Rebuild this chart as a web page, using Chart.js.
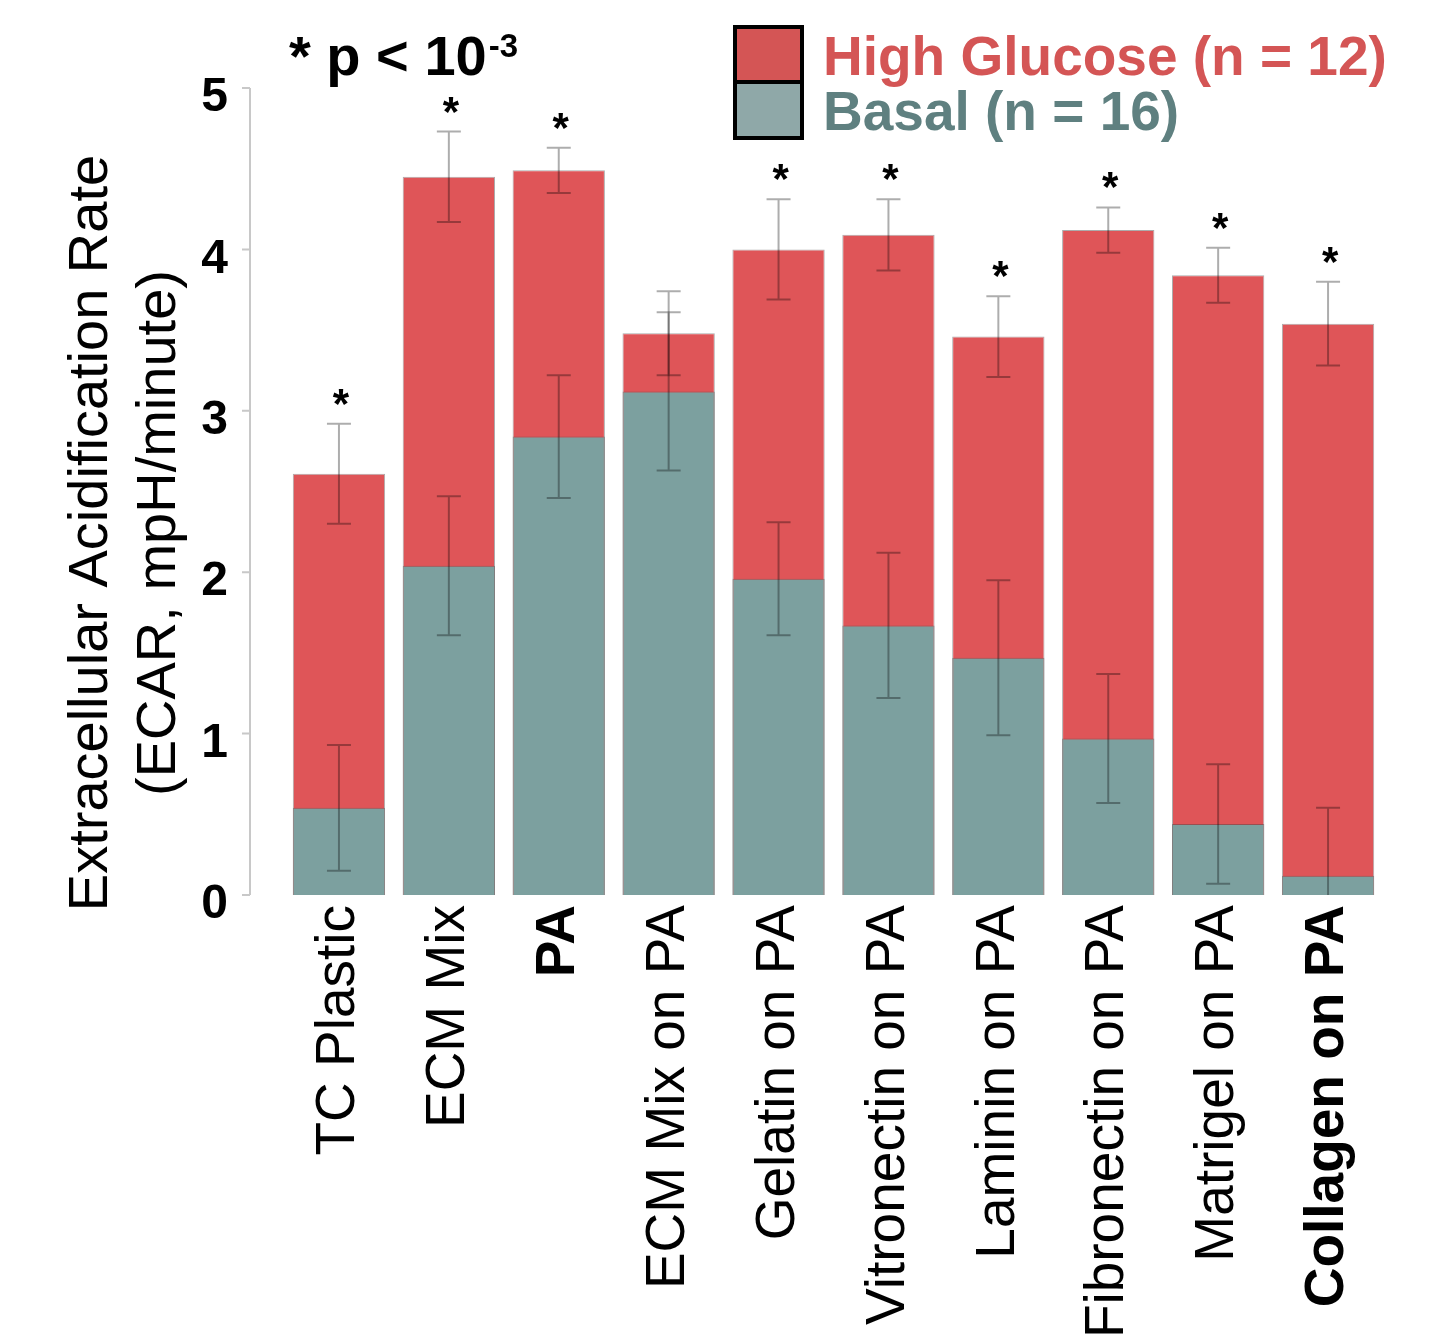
<!DOCTYPE html>
<html>
<head>
<meta charset="utf-8">
<script src="https://cdn.jsdelivr.net/npm/chart.js@4/dist/chart.umd.min.js"></script>
<style>
  html, body { margin: 0; padding: 0; background: #ffffff; }
  #wrap { width: 1433px; height: 1338px; position: relative; }
</style>
</head>
<body>
<div id="wrap"><canvas id="c"></canvas></div>
<script>
// ---------------- data ----------------
const categories = ["TC Plastic", "ECM Mix", "PA", "ECM Mix on PA", "Gelatin on PA",
  "Vitronectin on PA", "Laminin on PA", "Fibronectin on PA", "Matrigel on PA", "Collagen on PA"];
const boldCategories = ["PA", "Collagen on PA"];
const highGlucose    = [2.61, 4.45, 4.49, 3.48, 4.00, 4.09, 3.46, 4.12, 3.84, 3.54];
const highGlucoseErr = [0.31, 0.28, 0.14, 0.26, 0.31, 0.22, 0.25, 0.14, 0.17, 0.26];
const basal          = [0.54, 2.04, 2.84, 3.12, 1.96, 1.67, 1.47, 0.97, 0.44, 0.12];
const basalErr       = [0.39, 0.43, 0.38, 0.49, 0.35, 0.45, 0.48, 0.40, 0.37, 0.42];
const significance   = ["*", "*", "*", "", "*", "*", "*", "*", "*", "*"];
const yTickValues    = [0, 1, 2, 3, 4, 5];
const seriesNames    = ["High Glucose (n = 12)", "Basal (n = 16)"];
const yTitleLines    = ["Extracellular Acidification Rate", "(ECAR, mpH/minute)"];
const noteMain = "* p < 10";
const noteSup  = "-3";

// ---------------- style ----------------
const FONT = "'Liberation Sans', Arial, Helvetica, sans-serif";
const RED_BAR = "#df5558";
const TEAL_BAR = "#7ca09f";
const RED_LEG = "#d45555";
const TEAL_LEG_BOX = "#8fa8a8";
const TEAL_LEG_TEXT = "#5f8080";
const ERR_COLOR = "rgba(0,0,0,0.32)";
const AXIS_GAP = 34;   // y-axis line drawn this far left of the plot area

const errorBarPlugin = {
  id: 'errorBars',
  afterDatasetsDraw(chart) {
    const ctx = chart.ctx;
    const ys = chart.scales.y;
    const area = chart.chartArea;
    const errs = [highGlucoseErr, basalErr];
    ctx.save();
    ctx.beginPath();
    ctx.rect(area.left, area.top - 40, area.right - area.left, area.bottom - area.top + 40);
    ctx.clip();
    ctx.strokeStyle = ERR_COLOR;
    ctx.lineWidth = 2;
    chart.data.datasets.forEach((ds, di) => {
      const meta = chart.getDatasetMeta(di);
      meta.data.forEach((bar, i) => {
        const v = ds.data[i], e = errs[di][i];
        const x = bar.x;
        const yTop = ys.getPixelForValue(v + e);
        const lowV = v - e;
        const yBot = ys.getPixelForValue(Math.max(lowV, 0));
        ctx.beginPath();
        ctx.moveTo(x, yTop); ctx.lineTo(x, yBot);
        ctx.moveTo(x - 12, yTop); ctx.lineTo(x + 12, yTop);
        if (lowV > 0) { ctx.moveTo(x - 12, yBot); ctx.lineTo(x + 12, yBot); }
        ctx.stroke();
      });
    });
    ctx.restore();

    // significance stars
    ctx.save();
    ctx.fillStyle = '#000';
    ctx.font = `bold 42px ${FONT}`;
    ctx.textAlign = 'center';
    ctx.textBaseline = 'alphabetic';
    const meta0 = chart.getDatasetMeta(0);
    meta0.data.forEach((bar, i) => {
      if (!significance[i]) return;
      const yTop = ys.getPixelForValue(highGlucose[i] + highGlucoseErr[i]);
      ctx.fillText(significance[i], bar.x + 2, yTop - 6);
    });
    ctx.restore();
  },
  afterDraw(chart) {
    const ctx = chart.ctx;
    const ys = chart.scales.y;
    const area = chart.chartArea;
    const axX = area.left - AXIS_GAP;
    // y axis line + ticks
    ctx.save();
    ctx.strokeStyle = '#c8c8c8';
    ctx.lineWidth = 2;
    ctx.beginPath();
    ctx.moveTo(axX, ys.getPixelForValue(5));
    ctx.lineTo(axX, ys.getPixelForValue(0));
    yTickValues.forEach(v => {
      const y = ys.getPixelForValue(v);
      ctx.moveTo(axX - 8, y); ctx.lineTo(axX, y);
    });
    ctx.stroke();
    ctx.restore();

    // y title (two lines, rotated)
    ctx.save();
    ctx.fillStyle = '#000';
    ctx.font = `56px ${FONT}`;
    ctx.textAlign = 'center';
    ctx.textBaseline = 'alphabetic';
    ctx.translate(0, 533);
    ctx.rotate(-Math.PI / 2);
    ctx.fillText(yTitleLines[0], 0, 107);
    ctx.fillText(yTitleLines[1], 0, 175);
    ctx.restore();

    // p-value note
    ctx.save();
    ctx.fillStyle = '#000';
    ctx.textBaseline = 'alphabetic';
    ctx.textAlign = 'left';
    ctx.font = `bold 56px ${FONT}`;
    ctx.fillText(noteMain, 289, 75);
    const w = ctx.measureText(noteMain).width;
    ctx.font = `bold 33px ${FONT}`;
    ctx.fillText(noteSup, 289 + w + 2, 57);
    ctx.restore();

    // legend
    ctx.save();
    ctx.fillStyle = RED_LEG;
    ctx.fillRect(737, 29, 63, 51);
    ctx.fillStyle = TEAL_LEG_BOX;
    ctx.fillRect(737, 84, 63, 52);
    ctx.strokeStyle = '#000';
    ctx.lineWidth = 4;
    ctx.strokeRect(735, 27, 67, 55);
    ctx.strokeRect(735, 82, 67, 56);
    ctx.font = `bold 55px ${FONT}`;
    ctx.textAlign = 'left';
    ctx.textBaseline = 'alphabetic';
    ctx.fillStyle = RED_LEG;
    ctx.fillText(seriesNames[0], 823, 75);
    ctx.fillStyle = TEAL_LEG_TEXT;
    ctx.fillText(seriesNames[1], 823, 130);
    ctx.restore();
  }
};

Chart.defaults.font.family = FONT;
Chart.defaults.color = '#000';

new Chart(document.getElementById('c'), {
  type: 'bar',
  data: {
    labels: categories,
    datasets: [
      {
        label: seriesNames[0],
        data: highGlucose,
        backgroundColor: RED_BAR,
        borderColor: 'rgba(70,70,70,0.45)',
        borderWidth: 1,
        grouped: false,
        order: 2,
        barPercentage: 0.84,
        categoryPercentage: 1.0
      },
      {
        label: seriesNames[1],
        data: basal,
        backgroundColor: TEAL_BAR,
        borderColor: 'rgba(70,70,70,0.45)',
        borderWidth: 1,
        grouped: false,
        order: 1,
        barPercentage: 0.84,
        categoryPercentage: 1.0
      }
    ]
  },
  options: {
    responsive: true,
    maintainAspectRatio: false,
    animation: false,
    devicePixelRatio: 1,
    layout: { padding: { top: 88, right: 50, left: 0, bottom: 0 } },
    plugins: {
      legend: { display: false },
      tooltip: { enabled: false },
      title: { display: false }
    },
    scales: {
      x: {
        type: 'category',
        offset: true,
        grid: { display: false, drawTicks: false },
        border: { display: false },
        ticks: {
          autoSkip: false,
          minRotation: 90,
          maxRotation: 90,
          padding: 10,
          color: '#000',
          font: (c) => ({
            family: FONT,
            size: 55,
            weight: boldCategories.includes(categories[c.index]) ? 'bold' : 'normal'
          })
        },
        afterFit: (s) => { s.height = 443; }
      },
      y: {
        min: 0,
        max: 5,
        grid: { display: false, drawTicks: false },
        border: { display: false },
        ticks: {
          stepSize: 1,
          padding: 56,
          labelOffset: 10,
          color: '#000',
          font: { family: FONT, size: 48, weight: 'bold' }
        },
        afterFit: (s) => { s.width = 284; }
      }
    }
  },
  plugins: [errorBarPlugin]
});
</script>
</body>
</html>
